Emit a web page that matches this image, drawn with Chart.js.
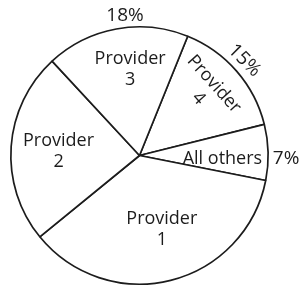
<!DOCTYPE html>
<html>
<head>
<meta charset="utf-8">
<script src="https://cdn.jsdelivr.net/npm/chart.js@4.4.0/dist/chart.umd.min.js"></script>
<style>
  html, body { margin: 0; padding: 0; background: #fff; }
  #wrap { width: 302px; height: 289px; }
</style>
</head>
<body>
<div id="wrap"><canvas id="ChartShare"></canvas></div>
<script>
// slice order goes clockwise from the Provider 3 / Provider 4 edge
const providers = ['Provider 4', 'All others', 'Provider 1', 'Provider 2', 'Provider 3'];
const shares = [15, 7, 36, 24, 18];
// percentages printed outside the pie (only some are shown)
const outsideLabels = ['15%', '7%', '', '', '18%'];

// label placement: fraction of radius + small angle nudge (deg) + rotation (deg)
const inside = [
    { frac: 0.72, nudge: -2.9, rot: 48 },
    { frac: 0.645, nudge: 3.9, rot: 0 },
    { frac: 0.60, nudge: -2.8, rot: 0 },
    { frac: 0.63, nudge: -1.2, rot: 0 },
    { frac: 0.676, nudge: 4.2, rot: 0 }
];
const outside = [
    { frac: 1.10, nudge: -1.2, rot: 45 },
    { frac: 1.14, nudge: 2.8, rot: 0 },
    null,
    null,
    { frac: 1.09, nudge: 4.5, rot: 0 }
];

const FONT = '18px "Open Sans", sans-serif';
const PCT_FONT = '19px "Open Sans", sans-serif';
const INK = '#1c1c1c';

function drawText(ctx, arc, place, lines){
    const mid = (arc.startAngle + arc.endAngle) / 2 + place.nudge * Math.PI / 180;
    const r = arc.outerRadius * place.frac;
    const x = arc.x + Math.cos(mid) * r;
    const y = arc.y + Math.sin(mid) * r;
    const lh = 21;
    ctx.save();
    ctx.translate(x, y);
    ctx.rotate(place.rot * Math.PI / 180);
    lines.forEach(function(t, i){
        ctx.fillText(t, 0, (i - (lines.length - 1) / 2) * lh);
    });
    ctx.restore();
}

const sliceLabels = {
    id: 'sliceLabels',
    afterDatasetsDraw(chart){
        const ctx = chart.ctx;
        const arcs = chart.getDatasetMeta(0).data;
        ctx.save();
        ctx.fillStyle = INK;
        ctx.textAlign = 'center';
        ctx.textBaseline = 'middle';
        arcs.forEach(function(arc, i){
            const name = providers[i];
            const lines = name.indexOf('Provider') === 0 ? name.split(' ') : [name];
            ctx.font = FONT;
            drawText(ctx, arc, inside[i], lines);
            if(outside[i] && outsideLabels[i]){
                ctx.font = PCT_FONT;
                drawText(ctx, arc, outside[i], [outsideLabels[i]]);
            }
        });
        ctx.restore();
    }
};

new Chart(document.getElementById('ChartShare'), {
    type: 'pie',
    data: {
        labels: providers,
        datasets: [{
            data: shares,
            backgroundColor: '#fff',
            borderColor: INK,
            borderWidth: 1.7
        }]
    },
    options: {
        responsive: true,
        maintainAspectRatio: false,
        animation: false,
        rotation: 22,
        layout: { padding: { left: 8, right: 31, top: 26, bottom: 4 } },
        plugins: {
            legend: false,
            tooltip: { enabled: false }
        }
    },
    plugins: [sliceLabels]
});
</script>
</body>
</html>
